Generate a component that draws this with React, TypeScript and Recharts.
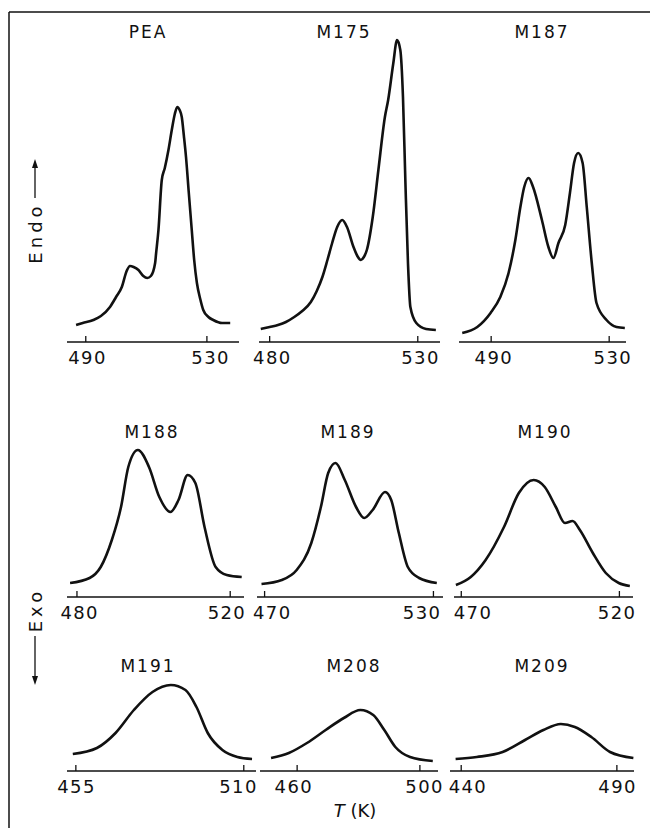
import React from "react";
import { LineChart, Line, XAxis, YAxis } from "recharts";

// temperatures (K) and DSC signal (arbitrary units, above baseline)
const peaT = [486.8, 489, 492.5, 495, 498, 500, 501.9, 503.5, 504.6, 505.8, 507.4, 509, 510.3, 511.5, 512.9, 513.2, 514.0, 515.1, 516.1, 517.3, 518.4, 519.4, 520.2, 521, 521.7, 522.4, 523.1, 524, 525, 525.8, 526.7, 527.8, 528.8, 530.5, 532.1, 535, 537.7];
const peaQ = [17, 19, 22, 26, 35, 45, 55, 71, 76, 75, 72, 66, 64, 66, 79, 88, 112, 162, 174, 192, 212, 228, 235, 232, 225, 206, 185, 150, 112, 82, 59, 43, 32, 25, 22, 19, 19];

const m175T = [477, 480, 482.8, 485.5, 488.3, 491, 493.9, 495.9, 497.8, 499.5, 501.1, 502.8, 504.5, 506.1, 508.3, 509.6, 510.8, 511.8, 512.8, 514.8, 516.7, 518.9, 520, 521.7, 523, 524.1, 525, 525.8, 526.7, 527.5, 529.5, 532.8, 536.1];
const m175Q = [13, 15, 17, 20, 25, 31, 40, 51, 65, 82, 99, 115, 122, 115, 95, 86, 82, 85, 92, 125, 172, 225, 242, 278, 302, 292, 245, 162, 78, 35, 19, 13, 12];

const m187T = [480.2, 485.3, 489.8, 493.1, 495.9, 498.2, 499.9, 501.2, 502.7, 504.2, 507.2, 509.4, 511.1, 512.8, 515.1, 516.7, 518.1, 519.5, 521, 522.4, 524.1, 525.7, 529.1, 532.5, 535.3];
const m187Q = [9, 15, 29, 45, 69, 102, 135, 155, 164, 155, 122, 95, 84, 99, 117, 149, 179, 189, 179, 135, 79, 39, 22, 15, 14];

const m188T = [478.2, 483.3, 486.2, 489.1, 491.5, 493.4, 495.9, 498.8, 501.5, 504.4, 506.5, 508.9, 510.9, 513.3, 516.2, 519.1, 523];
const m188Q = [14, 19, 30, 57, 90, 130, 147, 130, 100, 85, 97, 122, 114, 70, 30, 22, 20];

const m189T = [468.9, 476.1, 481.4, 486.6, 490, 492.6, 495.2, 498.5, 502.5, 505.4, 508.4, 512.8, 515, 517.7, 520.9, 524.9, 531.2];
const m189Q = [13, 17, 27, 54, 90, 124, 134, 117, 90, 79, 87, 105, 97, 64, 30, 19, 14];

const m190T = [468.3, 473, 477.7, 483.5, 488.2, 492.9, 496.4, 499.9, 502.8, 505.2, 507.5, 511.6, 515.7, 519.8, 523.3];
const m190Q = [12, 20, 37, 70, 104, 117, 110, 90, 74, 76, 67, 44, 24, 14, 11];

const m191T = [454, 461.9, 468, 474, 480.1, 486.1, 490.9, 494.5, 498.2, 503, 507.9, 512.7];
const m191Q = [17, 23, 38, 61, 79, 86, 81, 64, 38, 21, 14, 12];

const m208T = [451.5, 457.3, 463.2, 469.3, 475.2, 480.6, 484.8, 488.4, 492, 496.8, 504.2];
const m208Q = [13, 18, 28, 41, 53, 61, 56, 41, 24, 14, 10];

const m209T = [438.2, 445, 453.3, 460.5, 466.4, 472, 476.5, 481.8, 487.8, 495.3];
const m209Q = [12, 14, 19, 31, 41, 47, 44, 34, 19, 13];

const sampleNames = ["PEA", "M175", "M187", "M188", "M189", "M190", "M191", "M208", "M209"];
const tickValues = [
  [490, 530], [480, 530], [490, 530],
  [480, 520], [470, 530], [470, 520],
  [455, 510], [460, 500], [440, 490],
];
const axisRanges = [
  [483.8, 540.6], [476.4, 537.5], [479.1, 535.7],
  [477.4, 523.6], [467.3, 533.4], [467.7, 524.3],
  [452.1, 514], [447.9, 505.9], [436.4, 495.5],
];

const series = [
  [peaT, peaQ], [m175T, m175Q], [m187T, m187Q],
  [m188T, m188Q], [m189T, m189Q], [m190T, m190Q],
  [m191T, m191Q], [m208T, m208Q], [m209T, m209Q],
];

// layout of the panels on the page
const panelX = [
  [67, 239], [259, 440], [459, 626],
  [67, 244], [257, 443], [454, 633],
  [67, 256], [260, 438], [450, 634],
];
// horizontal nudge of each panel's two tick labels (first, last)
const labelShift = [
  [1, 3], [2, 2], [2, 3],
  [2, -4], [7, -12], [11, -3],
  [0, -6], [-4, 4], [6, 0],
];
const rowAxisY = [342, 597, 771];
const rowPlotH = [322, 152, 91];
const titlePos = [
  [148, 32], [344, 32], [542, 32],
  [152, 432], [348, 432], [545, 432],
  [148, 666], [354, 666], [542, 666],
];
const PAD = 24;

const FONT = "'DejaVu Sans', sans-serif";

const AxisTick = (props: any) => {
  const { x, y, payload, ticks, shift } = props;
  const k = ticks.indexOf(payload.value);
  const dx = shift[k] || 0;
  return (
    <g>
      <line x1={x} y1={y} x2={x} y2={y - 6} stroke="#111" strokeWidth={1.3} />
      <text x={x + dx + 0.7} y={y + 15} textAnchor="middle" dominantBaseline="central" fontFamily={FONT} fontSize={18} letterSpacing={1.4} fill="#111">
        {payload.value}
      </text>
    </g>
  );
};

function Panel({ i }: { i: number }) {
  const row = Math.floor(i / 3);
  const [x0, x1] = panelX[i];
  const plotH = rowPlotH[row];
  const [ts, qs] = series[i];
  const data = ts.map((t, k) => ({ T: t, q: qs[k] }));
  return (
    <div style={{ position: "absolute", left: x0 - PAD, top: rowAxisY[row] - plotH }}>
      <LineChart width={x1 - x0 + 2 * PAD} height={plotH + 32} data={data} margin={{ top: 0, right: PAD, bottom: 0, left: PAD }}>
        <XAxis
          type="number"
          dataKey="T"
          domain={axisRanges[i]}
          ticks={tickValues[i]}
          interval={0}
          allowDataOverflow
          height={32}
          tickSize={0}
          tickMargin={0}
          tickLine={false}
          tick={<AxisTick ticks={tickValues[i]} shift={labelShift[i]} />}
          axisLine={{ stroke: "#111", strokeWidth: 1.3 }}
        />
        <YAxis hide domain={[0, plotH]} allowDataOverflow />
        <Line type="monotone" dataKey="q" stroke="#111" strokeWidth={2.6} dot={false} isAnimationActive={false} />
      </LineChart>
    </div>
  );
}

export default function App() {
  return (
    <div style={{ position: "relative", width: 650, height: 828, background: "#fff", overflow: "hidden" }}>
      <style>{"body{margin:0}"}</style>
      <svg width={650} height={828} style={{ position: "absolute", left: 0, top: 0 }}>
        <line x1={9} y1={12} x2={650} y2={12} stroke="#111" strokeWidth={1.5} />
        <line x1={9} y1={12} x2={9} y2={828} stroke="#111" strokeWidth={1.5} />
        {sampleNames.map((n, i) => (
          <text key={n} x={titlePos[i][0]} y={titlePos[i][1]} textAnchor="middle" dominantBaseline="central" fontFamily={FONT} fontSize={17} letterSpacing={2} fill="#111">
            {n}
          </text>
        ))}
        <text x={35} y={233} transform="rotate(-90 35 233)" textAnchor="middle" dominantBaseline="central" fontFamily={FONT} fontSize={18} letterSpacing={4} fill="#111">Endo</text>
        <line x1={35} y1={198} x2={35} y2={166} stroke="#111" strokeWidth={1.3} />
        <polygon points="35,159 32,168 38,168" fill="#111" />
        <text x={35} y={610} transform="rotate(-90 35 610)" textAnchor="middle" dominantBaseline="central" fontFamily={FONT} fontSize={18} letterSpacing={4} fill="#111">Exo</text>
        <line x1={35} y1={636} x2={35} y2={677} stroke="#111" strokeWidth={1.3} />
        <polygon points="35,685 32,676 38,676" fill="#111" />
        <text x={355} y={810} textAnchor="middle" dominantBaseline="central" fontFamily={FONT} fontSize={18} fill="#111">
          <tspan fontStyle="italic">T</tspan> (K)
        </text>
      </svg>
      {sampleNames.map((n, i) => (
        <Panel key={n} i={i} />
      ))}
    </div>
  );
}
